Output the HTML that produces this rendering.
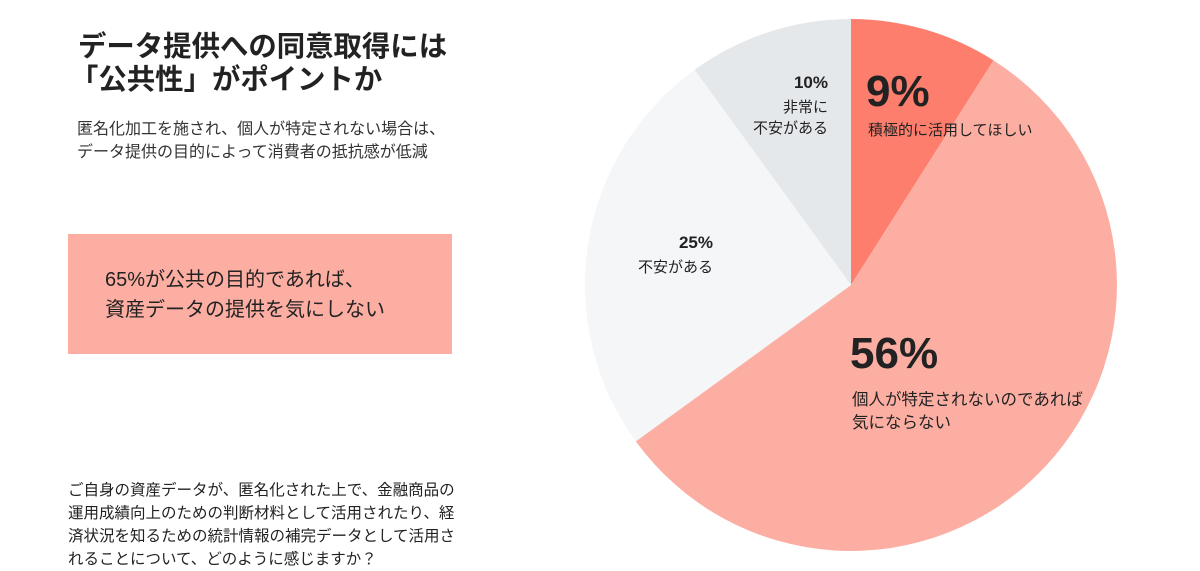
<!DOCTYPE html>
<html><head><meta charset="utf-8"><style>
html,body{margin:0;padding:0;background:#fff;}
body{width:1200px;height:569px;position:relative;overflow:hidden;font-family:"Liberation Sans","Noto Sans CJK JP",sans-serif;color:#222;}
.t{position:absolute;white-space:nowrap;line-height:1;}
</style></head><body>
<div class="t" style="left:78px;top:33px;font-size:28.4px;font-weight:bold;">データ提供への同意取得には</div>
<div class="t" style="left:70px;top:66px;font-size:28.4px;font-weight:bold;">「公共性」がポイントか</div>
<div class="t" style="left:77px;top:122px;font-size:16px;color:#333;">匿名化加工を施され、個人が特定されない場合は、</div>
<div class="t" style="left:77px;top:145px;font-size:16px;color:#333;">データ提供の目的によって消費者の抵抗感が低減</div>
<div style="position:absolute;left:68px;top:234px;width:384px;height:120px;background:#fcaea3;"></div>
<div class="t" style="left:105px;top:270px;font-size:20px;">65%が公共の目的であれば、</div>
<div class="t" style="left:105px;top:300px;font-size:20px;">資産データの提供を気にしない</div>
<div class="t" style="left:68px;top:479px;font-size:15.5px;line-height:23px;">ご自身の資産データが、匿名化された上で、金融商品の<br>運用成績向上のための判断材料として活用されたり、経<br>済状況を知るための統計情報の補完データとして活用さ<br>れることについて、どのように感じますか？</div>
<svg style="position:absolute;left:0;top:0" width="1200" height="569">
<g transform="translate(851,285)">
<path d="M0,0 L0,-266 A266,266 0 0 1 142.5,-224.6 Z" fill="#fe7e6d"/>
<path d="M0,0 L142.5,-224.6 A266,266 0 1 1 -215.2,156.4 Z" fill="#fcaea3"/>
<path d="M0,0 L-215.2,156.4 A266,266 0 0 1 -156.4,-215.2 Z" fill="#f4f6f8"/>
<path d="M0,0 L-156.4,-215.2 A266,266 0 0 1 0,-266 Z" fill="#e5e8eb"/>
</g>
</svg>
<div class="t" style="left:866px;top:70px;font-size:44px;font-weight:bold;">9%</div>
<div class="t" style="left:868px;top:123px;font-size:15px;">積極的に活用してほしい</div>
<div class="t" style="right:372px;top:74px;font-size:17px;font-weight:bold;">10%</div>
<div class="t" style="right:372px;top:97px;font-size:15px;text-align:right;line-height:21px;">非常に<br>不安がある</div>
<div class="t" style="right:487px;top:234px;font-size:17px;font-weight:bold;">25%</div>
<div class="t" style="right:487px;top:260px;font-size:15px;">不安がある</div>
<div class="t" style="left:850px;top:332px;font-size:44px;font-weight:bold;">56%</div>
<div class="t" style="left:852px;top:389px;font-size:16.5px;line-height:23px;">個人が特定されないのであれば<br>気にならない</div>
</body></html>
